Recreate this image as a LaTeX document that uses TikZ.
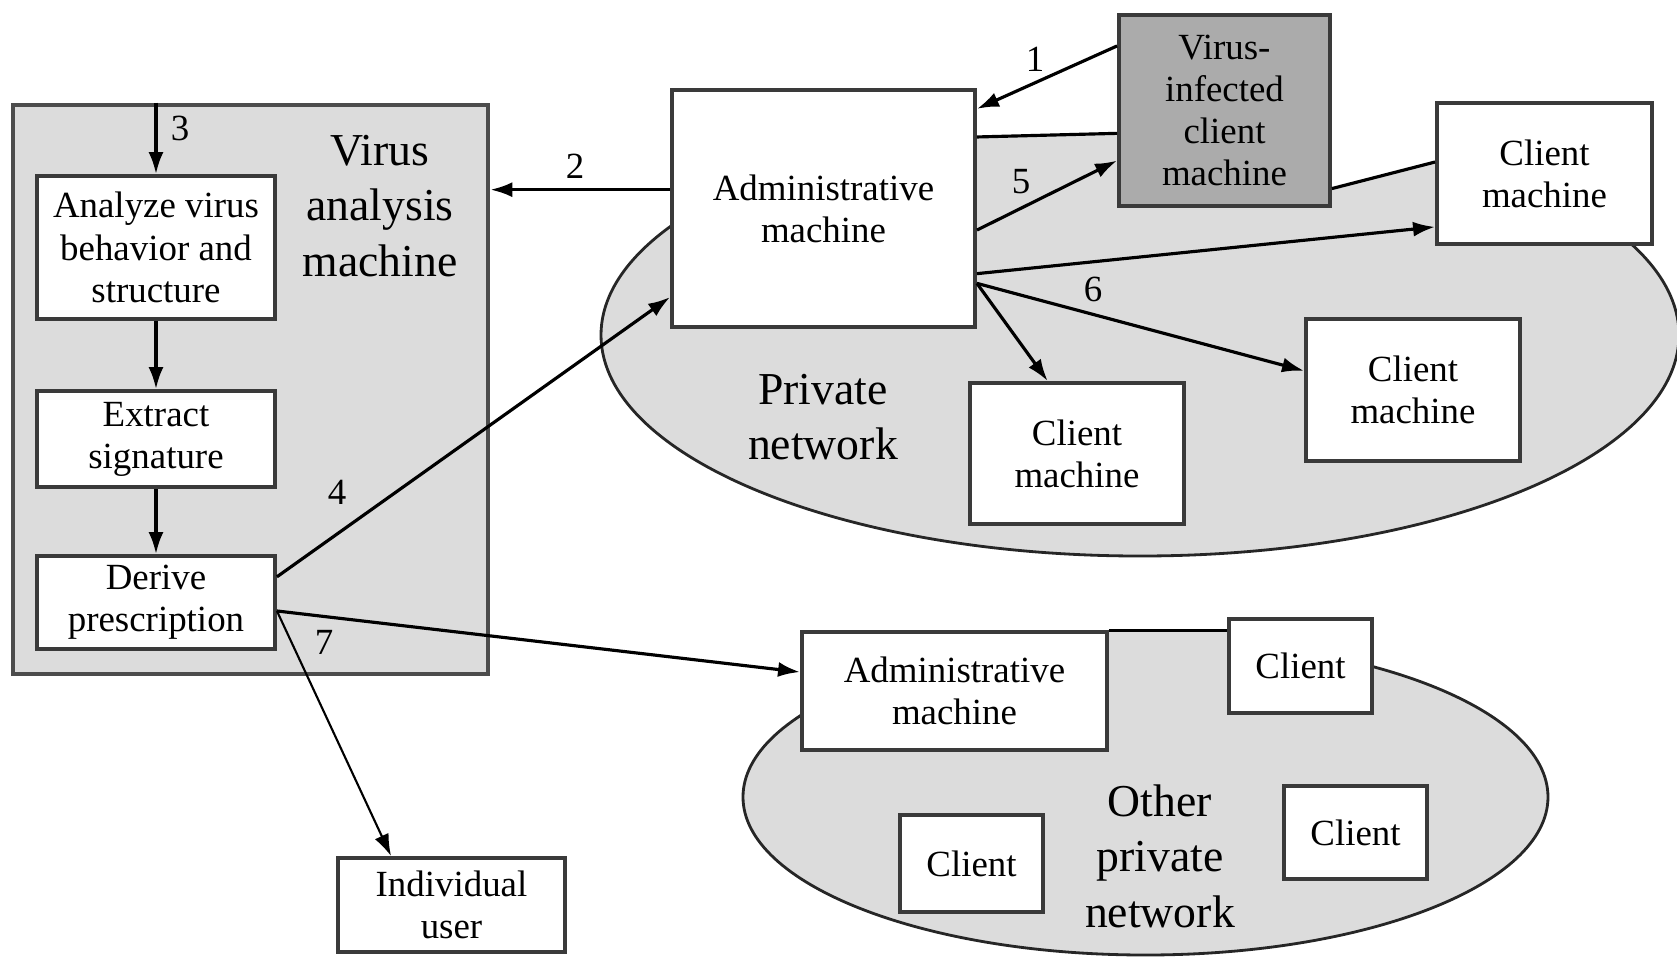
\documentclass[tikz,border=0pt]{standalone}
\usepackage{fontspec}
\setmainfont{Liberation Serif}
\usepackage{tikz}
\usetikzlibrary{arrows.meta,backgrounds}

\definecolor{boxline}{HTML}{3A3A3A}
\definecolor{panel}{HTML}{DCDCDC}
\definecolor{infect}{HTML}{ABABAB}

\tikzset{
    box/.style={draw=boxline, line width=1.1pt, fill=white, align=center, inner sep=0pt,
                font=\fontsize{10.5}{12}\selectfont},
    biglabel/.style={align=center, font=\fontsize{13}{15.8}\selectfont},
    num/.style={font=\fontsize{10.5}{12}\selectfont},
    net/.style={draw=black!85, line width=0.8pt, fill=panel},
    link/.style={line width=0.9pt}
}

\begin{document}
\begin{tikzpicture}[x=0.1mm, y=-0.1mm, >={Latex[length=2.2mm,width=1.5mm]}]
    \useasboundingbox (0,0) rectangle (1677,956);
    \clip (0,0) rectangle (1677,956);
    \coordinate (leftedge) at (0,0);
    \coordinate (rightedge) at (1677,0);

    %%%%%%%%%%%%%%%%%%%%%%%%%%%%%%%%%%%%
    % virus analysis machine
    %%%%%%%%%%%%%%%%%%%%%%%%%%%%%%%%%%%%
    \node (vam) at (250.5,389.5) [draw=black!70, line width=1.3pt, fill=panel,
        minimum width=47.5mm, minimum height=56.9mm] {};
    \node (vamlabel) at (380,206) [biglabel] {Virus\\analysis\\machine};

    \node (analyze) at (156,247.5) [box, minimum width=23.8mm, minimum height=14.3mm]
        {Analyze virus\\behavior and\\structure};
    \node (extract) at (156,439) [box, minimum width=23.8mm, minimum height=9.6mm]
        {Extract\\signature};
    \node (derive) at (156,602.5) [box, minimum width=23.8mm, minimum height=9.3mm]
        {Derive\\prescription};

    %%%%%%%%%%%%%%%%%%%%%%%%%%%%%%%%%%%%
    % private network
    %%%%%%%%%%%%%%%%%%%%%%%%%%%%%%%%%%%%
    \node (admin) at (823.5,208.5) [box, minimum width=30.3mm, minimum height=23.7mm]
        {Administrative\\machine};
    \node (infected) at (1224.5,110.5) [box, fill=infect, minimum width=21.1mm, minimum height=19.1mm]
        {Virus-\\infected\\client\\machine};
    \node (clientA) at (1544.5,173.5) [box, minimum width=21.5mm, minimum height=14.1mm]
        {Client\\machine};
    \node (clientB) at (1413,390) [box, minimum width=21.4mm, minimum height=14.2mm]
        {Client\\machine};
    \node (clientC) at (1077,453.5) [box, minimum width=21.4mm, minimum height=14.1mm]
        {Client\\machine};
    \node (privlabel) at (823,417) [biglabel] {Private\\network};

    %%%%%%%%%%%%%%%%%%%%%%%%%%%%%%%%%%%%
    % other private network
    %%%%%%%%%%%%%%%%%%%%%%%%%%%%%%%%%%%%
    \node (admin2) at (954.5,691) [box, minimum width=30.5mm, minimum height=11.8mm]
        {Administrative\\machine};
    \node (clientS) at (1300.5,666) [box, minimum width=14.3mm, minimum height=9.4mm] {Client};
    \node (clientL) at (971.5,863.5) [box, minimum width=14.3mm, minimum height=9.7mm] {Client};
    \node (clientR) at (1355.5,832.5) [box, minimum width=14.3mm, minimum height=9.3mm] {Client};
    \node (otherlabel) at (1160,856) [biglabel] {Other\\private\\network};

    \node (user) at (451.5,905) [box, minimum width=22.7mm, minimum height=9.4mm]
        {Individual\\user};

    % network areas, cut off by the links along their top
    \begin{pgfonlayer}{background}
        \begin{scope}
            \clip (leftedge |- admin.25) -- (admin.25) -- (infected.192) -- (infected.-36)
                -- (clientA.174) -- (rightedge |- clientA.174) -- (rightedge |- user.south)
                -- (leftedge |- user.south) -- cycle;
            \draw[net] (1140,335) ellipse [x radius=53.9mm, y radius=22.1mm];
        \end{scope}
        \draw[net] (1145.5,797) ellipse [x radius=40.25mm, y radius=15.8mm];
        \fill[panel] (admin2.north east) rectangle (clientS.west |- admin2.east);
    \end{pgfonlayer}

    %%%%%%%%%%%%%%%%%%%%%%%%%%%%%%%%%%%%
    % connectors
    %%%%%%%%%%%%%%%%%%%%%%%%%%%%%%%%%%%%
    \draw[link] (admin.25) -- (infected.192);
    \draw[link] (infected.-36) -- (clientA.174);
    \draw[link] (admin2.north east) -- (admin2.north east -| clientS.west);

    \draw[link,->] (infected.149) -- (admin.33);
    \draw[link,->] (admin.173) -- (admin.173 -| vam.east);
    \draw[link,->] (analyze.north |- vam.north) -- (analyze.north);
    \draw[link,->] (analyze) -- (extract);
    \draw[link,->] (extract) -- (derive);
    \draw[link,->] (derive.12) -- (admin.210);
    \draw[link,->] (admin.-8) -- (infected.205);
    \draw[link,->] (admin.-23) -- (clientA.206);
    \draw[link,->] (admin.-26) -- (clientC.112);
    \draw[link,->] (admin.-26) -- (clientB.170);
    \draw[link,->] (derive.-4) -- (admin2.173);
    \draw[line width=0.6pt,->] (derive.-4) -- (user.141);

    \node (n1) at (1035,59) [num] {1};
    \node (n2) at (575,166) [num] {2};
    \node (n3) at (180,128) [num] {3};
    \node (n4) at (337,492) [num] {4};
    \node (n5) at (1021,182) [num] {5};
    \node (n6) at (1093,289) [num] {6};
    \node (n7) at (324,642) [num] {7};

\end{tikzpicture}
\end{document}
